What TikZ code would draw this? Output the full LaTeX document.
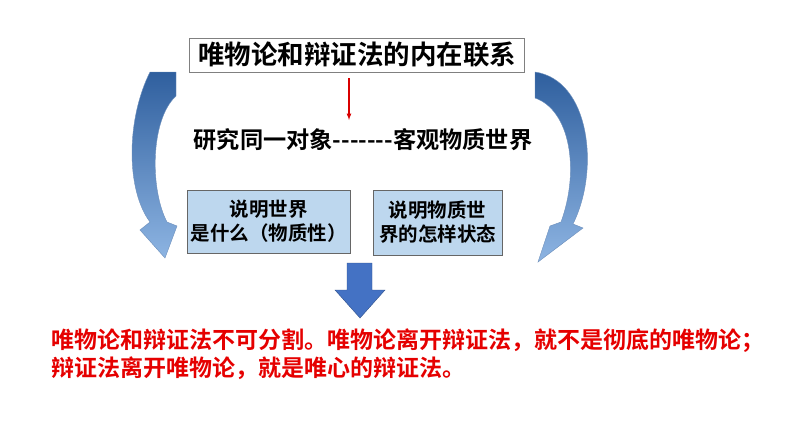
\documentclass[tikz,border=0pt]{standalone}
\usepackage{fontspec}
\newfontfamily\cjk{Noto Sans CJK SC}[BoldFont={Noto Sans CJK SC Bold}]
\definecolor{boxfill}{HTML}{BDD7EE}
\definecolor{arrdark}{HTML}{2F5F9E}
\definecolor{arrlight}{HTML}{8DB4E2}
\definecolor{downblue}{HTML}{4472C4}
\begin{document}
\begin{tikzpicture}[x=1pt,y=-1pt,
  blbox/.style={draw=black!60,fill=boxfill,line width=0.8pt,inner sep=0pt,align=center,font=\cjk\bfseries\fontsize{19.5}{24}\selectfont},
  curved/.style={draw=arrdark!70,line width=0.4pt,top color=arrdark,bottom color=arrlight}]
\useasboundingbox (0,0) rectangle (794,447);
\node[draw=black!50,line width=0.8pt,minimum width=335pt,minimum height=34pt,font=\cjk\bfseries\fontsize{26.5}{28}\selectfont] (title) at (357,55) {唯物论和辩证法的内在联系};
\node[font=\cjk\bfseries\fontsize{23.2}{26}\selectfont] (obj) at (363,140) {研究同一对象-------客观物质世界};
\draw[red!85!black,line width=1.2pt,-{latex}] (349,78) -- (349,120);
\node[blbox,minimum width=163pt,minimum height=63pt] (b1) at (268.5,221.5) {说明世界\\是什么（物质性）};
\node[blbox,minimum width=129pt,minimum height=65pt] (b2) at (437.5,222.5) {说明物质世\\界的怎样状态};
\path[fill=downblue,draw=downblue!70!black,line width=0.4pt] (347,263) -- (372,263) -- (372,290) -- (385,290) -- (360,318) -- (335,290) -- (347,290) -- cycle;
\path[curved] (176,72) -- (150,72) .. controls (126,120) and (126,190) .. (150,222) -- (140,230) -- (165,258) -- (177,226) -- (167,222) .. controls (150,190) and (150,120) .. (176,96) -- cycle;
\path[curved] (535,72) .. controls (590,80) and (600,170) .. (573,224) -- (583,228) -- (538,262) -- (550,226) -- (561,222) .. controls (580,170) and (570,110) .. (535,98) -- cycle;
\node[anchor=west,text=red!90!black,align=left,font=\cjk\bfseries\fontsize{23}{28}\selectfont] (concl) at (48,354) {唯物论和辩证法不可分割。唯物论离开辩证法，就不是彻底的唯物论；\\辩证法离开唯物论，就是唯心的辩证法。};
\end{tikzpicture}
\end{document}
